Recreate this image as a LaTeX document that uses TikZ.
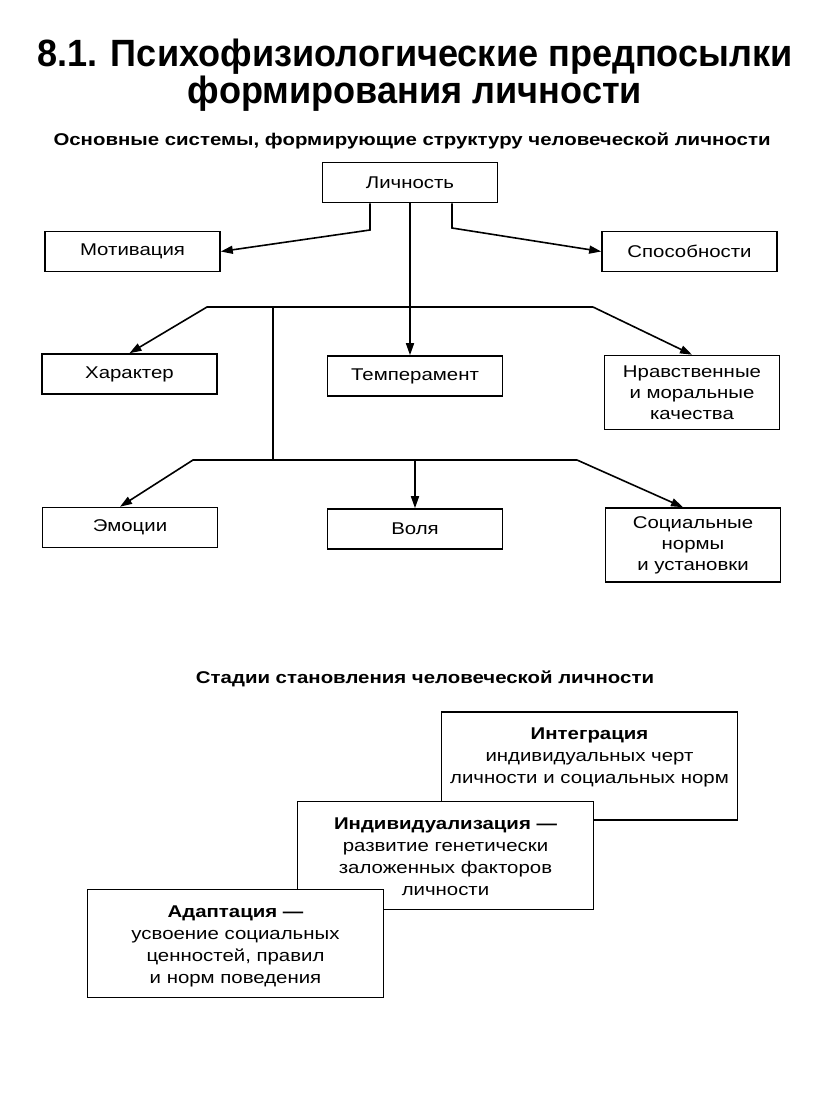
\documentclass[tikz,border=0pt]{standalone}
\usepackage{fontspec}
\usetikzlibrary{arrows.meta}
\newfontfamily\boxfont{Liberation Sans}[FakeStretch=1.2]
\newfontfamily\titlefont{Liberation Sans}[FakeStretch=0.95]
\tikzset{
    system-box/.style = {draw, line width=1.6pt, rectangle, minimum width=175pt, minimum height=40pt, inner sep=2pt, align=center, font=\fontsize{17}{21}\boxfont},
    tall-box/.style = {system-box, minimum height=74pt},
    stage-box/.style = {draw, fill=white, line width=1.6pt, rectangle, inner sep=0pt, font=\fontsize{17}{22}\boxfont},
    heading/.style = {anchor=base, font=\fontsize{17}{21}\boxfont\bfseries},
    title-line/.style = {anchor=base, font=\fontsize{38}{40}\titlefont\bfseries},
    link/.style = {line width=1.6pt},
    link-arrow/.style = {link, -{Triangle[length=12pt, width=8pt]}},
}
\newcommand{\stagetext}[1]{\parbox[c][108pt][t]{296pt}{\centering\vspace*{16pt}#1}}

\begin{document}
\begin{tikzpicture}[x=1pt, y=-1pt]
\path[fill=white, use as bounding box] (0,0) rectangle (816,1106);

% headings
\node[title-line] (title-a) at (415,66) {8.1. Психофизиологические предпосылки};
\node[title-line] (title-b) at (415,103) {формирования личности};
\node[heading] (systems-title) at (412,145) {Основные системы, формирующие структуру человеческой личности};

% systems
\node[system-box] (lich) at (410,182.5) {Личность};
\node[system-box] (mot) at (132.5,251.5) {Мотивация};
\node[system-box] (spos) at (689.5,251.5) {Способности};
\node[system-box] (char) at (129.5,374) {Характер};
\node[system-box] (temp) at (415,376) {Темперамент};
\node[tall-box] (nrav) at (692,392.5) {Нравственные\\и моральные\\качества};
\node[system-box] (emo) at (130,527.5) {Эмоции};
\node[system-box] (vol) at (415,529) {Воля};
\node[tall-box] (soc) at (693,545) {Социальные\\нормы\\и установки};

\coordinate (mot-bend) at (370,230);
\coordinate (spos-bend) at (452,228);
\coordinate (bar-a-left) at (207,307);
\coordinate (bar-a-right) at (593,307);
\coordinate (stem) at (273,307);
\coordinate (bar-b-left) at (193,460);
\coordinate (bar-b-right) at (577,460);

\draw[link-arrow] (lich.south -| mot-bend) -- (mot-bend) -- (mot.east);
\draw[link-arrow] (lich.south -| spos-bend) -- (spos-bend) -- (spos.west);
\draw[link-arrow] (lich.south) -- (temp.north -| lich.south);
\draw[link-arrow] (bar-a-right) -- (bar-a-left) -- (char.north);
\draw[link-arrow] (bar-a-right) -- (nrav.north);
\draw[link] (stem) -- (stem |- bar-b-left);
\draw[link-arrow] (bar-b-right) -- (bar-b-left) -- ([xshift=-10pt]emo.north);
\draw[link-arrow] (vol.north |- bar-b-left) -- (vol.north);
\draw[link-arrow] (bar-b-right) -- ([xshift=-10pt]soc.north);

% stages
\node[heading] (stages-title) at (425,683) {Стадии становления человеческой личности};
\node[stage-box] (integ) at (589.5,766) {\stagetext{\textbf{Интеграция}\\индивидуальных черт\\личности и социальных норм}};
\node[stage-box] (indiv) at (445.5,855.5) {\stagetext{\textbf{Индивидуализация —}\\развитие генетически\\заложенных факторов\\личности}};
\node[stage-box] (adapt) at (235.5,943.5) {\stagetext{\textbf{Адаптация —}\\усвоение социальных\\ценностей, правил\\и норм поведения}};
\end{tikzpicture}
\end{document}
